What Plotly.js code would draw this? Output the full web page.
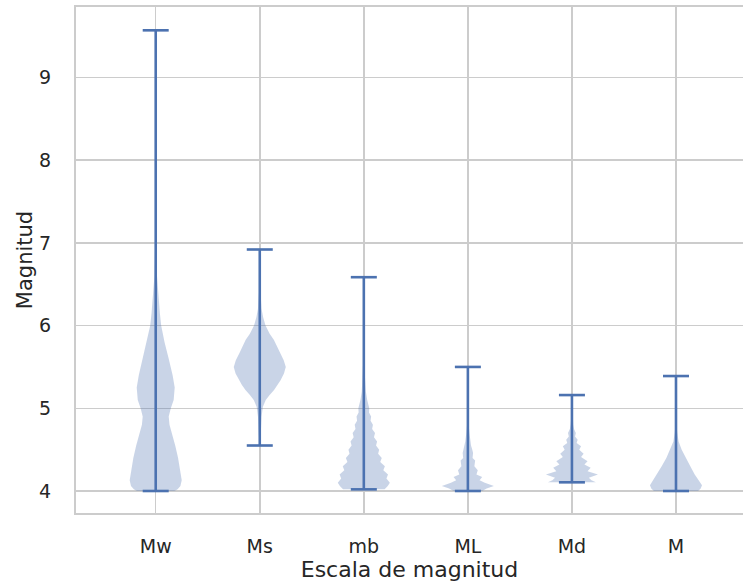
<!DOCTYPE html>
<html>
<head>
<meta charset="utf-8">
<script src="https://cdn.plot.ly/plotly-3.0.1.min.js"></script>
<style>html,body{margin:0;padding:0;background:#fff;}#chart{width:743px;height:586px;}</style>
</head>
<body>
<div id="chart"></div>
<script>
// Categories (magnitude scales)
const categories = ["Mw", "Ms", "mb", "ML", "Md", "M"];
// Minimum and maximum magnitude per scale
const minValues = [4.00, 4.55, 4.02, 4.00, 4.105, 4.00];
const maxValues = [9.57, 6.92, 6.585, 5.50, 5.16, 5.39];

// Relative density profiles, levels from top (max) to bottom (min)
const mwLevels  = [9.57, 8.0, 7.0, 6.6, 6.45, 6.3, 6.15, 6.0, 5.8, 5.6, 5.4, 5.25, 5.1, 5.0, 4.9, 4.8, 4.7, 4.55, 4.4, 4.25, 4.13, 4.06, 4.02, 4.00];
const mwDensity = [0.0, 0.005, 0.02, 0.05, 0.08, 0.12, 0.16, 0.21, 0.34, 0.50, 0.65, 0.73, 0.69, 0.58, 0.50, 0.53, 0.62, 0.75, 0.86, 0.95, 1.0, 0.95, 0.84, 0.72];

const msLevels  = [6.92, 6.6, 6.4, 6.2, 6.1, 6.0, 5.9, 5.83, 5.75, 5.67, 5.58, 5.5, 5.42, 5.34, 5.28, 5.22, 5.16, 5.10, 5.02, 4.9, 4.7, 4.55];
const msDensity = [0.0, 0.01, 0.03, 0.07, 0.13, 0.22, 0.38, 0.54, 0.66, 0.78, 0.92, 1.0, 0.93, 0.80, 0.68, 0.55, 0.38, 0.23, 0.12, 0.07, 0.04, 0.01];

const mbLevels  = [6.585, 6.0, 5.6, 5.4, 5.2, 5.1, 5.0, 4.95, 4.9, 4.85, 4.8, 4.75, 4.7, 4.65, 4.6, 4.55, 4.5, 4.45, 4.4, 4.35, 4.3, 4.25, 4.2, 4.15, 4.1, 4.06, 4.02];
const mbDensity = [0.0, 0.005, 0.02, 0.04, 0.08, 0.13, 0.21, 0.20, 0.28, 0.26, 0.35, 0.32, 0.43, 0.39, 0.51, 0.47, 0.59, 0.55, 0.69, 0.63, 0.81, 0.75, 0.93, 0.87, 1.0, 0.92, 0.80];

const mlLevels  = [5.50, 5.0, 4.8, 4.7, 4.6, 4.55, 4.5, 4.46, 4.4, 4.37, 4.3, 4.25, 4.2, 4.17, 4.13, 4.1, 4.06, 4.03, 4.00];
const mlDensity = [0.0, 0.01, 0.03, 0.06, 0.10, 0.12, 0.17, 0.20, 0.18, 0.28, 0.25, 0.38, 0.33, 0.55, 0.45, 0.65, 1.0, 0.72, 0.55];

const mdLevels  = [5.16, 4.9, 4.8, 4.75, 4.7, 4.66, 4.62, 4.58, 4.54, 4.5, 4.45, 4.41, 4.36, 4.32, 4.28, 4.24, 4.20, 4.16, 4.13, 4.105];
const mdDensity = [0.0, 0.02, 0.05, 0.08, 0.15, 0.12, 0.22, 0.18, 0.35, 0.28, 0.45, 0.35, 0.60, 0.48, 0.72, 0.60, 1.0, 0.65, 0.75, 0.92];

const mLevels   = [5.39, 5.0, 4.8, 4.7, 4.6, 4.5, 4.4, 4.3, 4.2, 4.12, 4.07, 4.03, 4.00];
const mDensity  = [0.0, 0.005, 0.02, 0.05, 0.10, 0.22, 0.37, 0.55, 0.72, 0.90, 1.0, 0.95, 0.85];

const profileLevels  = [mwLevels, msLevels, mbLevels, mlLevels, mdLevels, mLevels];
const profileDensity = [mwDensity, msDensity, mbDensity, mlDensity, mdDensity, mDensity];

const positions = categories.map((c, i) => i + 1);
const halfWidth = 0.25;   // violin widths = 0.5
const capHalf = 0.125;
const lineColor = "#4c72b0";

const traces = [];
positions.forEach((p, i) => {
  const lv = profileLevels[i], dn = profileDensity[i];
  const xs = [], ys = [];
  for (let k = 0; k < lv.length; k++) { xs.push(p + halfWidth * dn[k]); ys.push(lv[k]); }
  for (let k = lv.length - 1; k >= 0; k--) { xs.push(p - halfWidth * dn[k]); ys.push(lv[k]); }
  traces.push({
    type: "scatter", mode: "lines", x: xs, y: ys,
    fill: "toself", fillcolor: "rgba(76,114,176,0.3)",
    line: {width: 0, color: "rgba(0,0,0,0)"},
    hoverinfo: "skip", showlegend: false
  });
});

// bars and caps
const lx = [], ly = [];
positions.forEach((p, i) => {
  lx.push(p, p, null); ly.push(minValues[i], maxValues[i], null);
  lx.push(p - capHalf, p + capHalf, null); ly.push(minValues[i], minValues[i], null);
  lx.push(p - capHalf, p + capHalf, null); ly.push(maxValues[i], maxValues[i], null);
});
traces.push({
  type: "scatter", mode: "lines", x: lx, y: ly,
  line: {color: lineColor, width: 2.6}, hoverinfo: "skip", showlegend: false
});

const fontFam = "DejaVu Sans, sans-serif";
const layout = {
  width: 743, height: 586,
  margin: {l: 76, r: 0, t: 7, b: 73},
  paper_bgcolor: "#ffffff", plot_bgcolor: "#ffffff",
  showlegend: false,
  font: {family: fontFam, color: "#262626"},
  xaxis: {
    range: [0.234, 6.644],
    tickmode: "array", tickvals: positions, ticktext: categories,
    showgrid: true, gridcolor: "#cccccc", gridwidth: 1.5,
    zeroline: false, showline: true, linecolor: "#cccccc", linewidth: 2, mirror: true,
    ticks: "outside", ticklen: 15, tickcolor: "rgba(0,0,0,0)",
    tickfont: {family: fontFam, size: 19, color: "#262626"},
    title: {text: "Escala de magnitud", font: {family: fontFam, size: 22, color: "#262626"}, standoff: 4}
  },
  yaxis: {
    range: [3.734, 9.852],
    tickmode: "array", tickvals: [4, 5, 6, 7, 8, 9],
    showgrid: true, gridcolor: "#cccccc", gridwidth: 1.5,
    zeroline: false, showline: true, linecolor: "#cccccc", linewidth: 2, mirror: false,
    ticks: "outside", ticklen: 19, tickcolor: "rgba(0,0,0,0)",
    tickfont: {family: fontFam, size: 19, color: "#262626"},
    title: {text: "Magnitud", font: {family: fontFam, size: 21, color: "#262626"}, standoff: 1}
  }
};

Plotly.newPlot("chart", traces, layout, {staticPlot: true, displayModeBar: false});
</script>
</body>
</html>
